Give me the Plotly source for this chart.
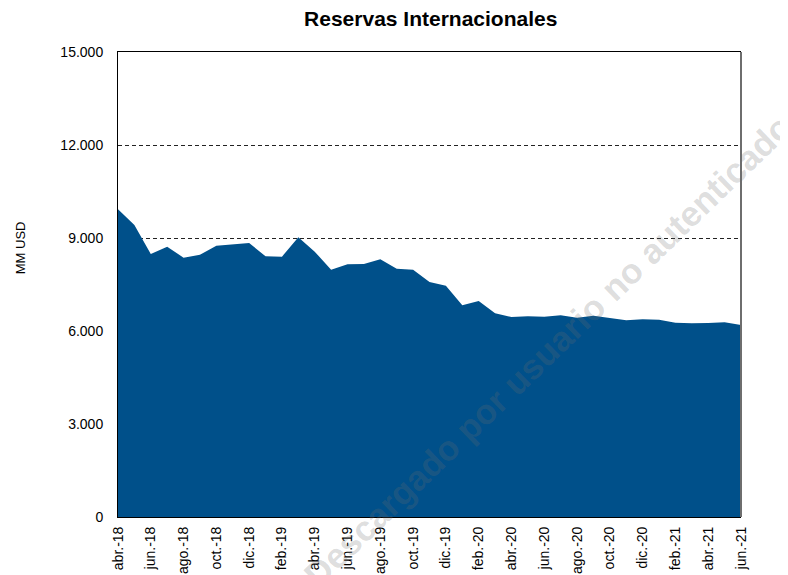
import plotly.graph_objects as go

# Reservas internacionales (MM USD), mensual abr.-18 a jun.-21
MESES = ["ene.", "feb.", "mar.", "abr.", "may.", "jun.",
         "jul.", "ago.", "sep.", "oct.", "nov.", "dic."]
periodos = [f"{MESES[(3 + i) % 12]}-{18 + (3 + i) // 12}" for i in range(39)]

reservas = [
    9926, 9420, 8484, 8720, 8365, 8462, 8752, 8797, 8839,   # abr.-18 .. dic.-18
    8410, 8398, 9023, 8559, 7978, 8155, 8161, 8313, 8011,   # ene.-19 .. sep.-19
    7978, 7581, 7462,                                       # oct.-19 .. dic.-19
    6829, 6968, 6571, 6452, 6478, 6463, 6506, 6430, 6495,   # ene.-20 .. sep.-20
    6420, 6344, 6376,                                       # oct.-20 .. dic.-20
    6366, 6269, 6247, 6258, 6279, 6194,                     # ene.-21 .. jun.-21
]
ticks_x = periodos[::2]
ticks_y = [0, 3000, 6000, 9000, 12000, 15000]

AZUL = "#00508A"
FUENTE = "Arial, Liberation Sans, sans-serif"

fig = go.Figure()
fig.add_trace(go.Scatter(
    x=periodos, y=reservas, mode="lines", fill="tozeroy",
    line=dict(color=AZUL, width=0), fillcolor=AZUL,
    name="Reservas", showlegend=False,
))

# la página deja 8 px de margen al cuerpo: figura de 780x567
fig.update_layout(
    width=780, height=567,
    margin=dict(l=110, r=47, t=44, b=58),
    paper_bgcolor="white", plot_bgcolor="white",
    separators=",.",
    font=dict(family=FUENTE, size=12, color="#000000"),
    title=dict(text="<b>Reservas Internacionales</b>", x=0.542, xanchor="center",
               y=1 - 11 / 567, yanchor="middle", font=dict(size=21, color="#000000")),
)
fig.update_xaxes(
    type="category", range=[0, len(periodos) - 1],
    tickmode="array", tickvals=ticks_x, ticktext=ticks_x,
    tickangle=-90, tickfont=dict(size=14), automargin=False,
    showgrid=False, showline=True, linecolor="#000000", linewidth=1,
    mirror=True, ticks="outside", ticklen=3, tickcolor="white",
)
fig.update_yaxes(
    range=[0, 15000], tickvals=ticks_y, tickformat=",.0f",
    tickfont=dict(size=14), automargin=False, ticklen=11, ticks="outside",
    tickcolor="white",
    showgrid=True, gridcolor="#222222", griddash="4px,3px", gridwidth=1,
    zeroline=False, showline=True, linecolor="#000000", linewidth=1,
)
# borde derecho gris
fig.add_shape(type="line", xref="paper", yref="paper", x0=1, x1=1, y0=0, y1=1,
              line=dict(color="#6e6e6e", width=2))

fig.add_annotation(text="MM USD", xref="paper", yref="paper",
                   x=-98 / 623, y=0.578, xanchor="center", yanchor="middle",
                   textangle=-90, showarrow=False,
                   font=dict(size=13, color="#000000"))

# marca de agua
fig.add_annotation(text="<b>Descargado por usuario no autenticado</b>",
                   xref="paper", yref="paper", x=0.69, y=0.358,
                   xanchor="center", yanchor="middle",
                   textangle=-44, showarrow=False,
                   font=dict(size=35, color="rgba(110,110,110,0.24)"))

fig.write_html("out.html")
